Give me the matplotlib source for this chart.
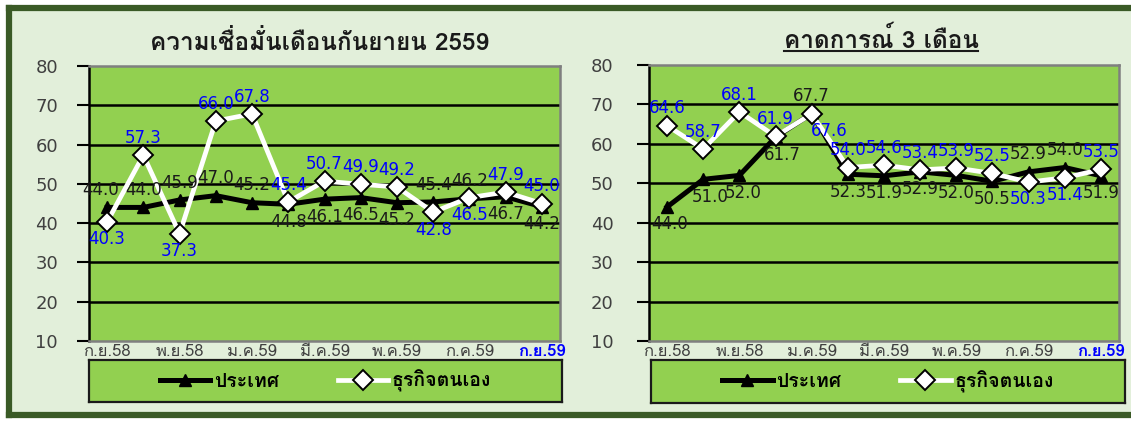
import matplotlib
matplotlib.use("Agg")
import matplotlib.pyplot as plt
from matplotlib import font_manager
from matplotlib.ft2font import FT2Font
from matplotlib.patches import Rectangle
from matplotlib.lines import Line2D

# pick an installed font that has Thai glyphs
thai_font = None
for f in font_manager.fontManager.ttflist:
    try:
        if 0x0E01 in FT2Font(f.fname).get_charmap():
            thai_font = f.name
            break
    except Exception:
        pass
FAMILY = [thai_font, 'DejaVu Sans'] if thai_font else ['DejaVu Sans']

months = ['ก.ย.58', 'ต.ค.58', 'พ.ย.58', 'ธ.ค.58', 'ม.ค.59', 'ก.พ.59', 'มี.ค.59',
          'เม.ย.59', 'พ.ค.59', 'มิ.ย.59', 'ก.ค.59', 'ส.ค.59', 'ก.ย.59']

# current month confidence
now_country = [44.0, 44.0, 45.9, 47.0, 45.2, 44.8, 46.1, 46.5, 45.2, 45.4, 46.2, 46.7, 44.2]
now_business = [40.3, 57.3, 37.3, 66.0, 67.8, 45.4, 50.7, 49.9, 49.2, 42.8, 46.5, 47.9, 45.0]
# 3-month outlook
fc_country = [44.0, 51.0, 52.0, 61.7, 67.7, 52.3, 51.9, 52.9, 52.0, 50.5, 52.9, 54.0, 51.9]
fc_business = [64.6, 58.7, 68.1, 61.9, 67.6, 54.0, 54.6, 53.4, 53.9, 52.5, 50.3, 51.4, 53.5]

titles = ['ความเชื่อมั่นเดือนกันยายน 2559', 'คาดการณ์ 3 เดือน']
legend_labels = ['ประเทศ', 'ธุรกิจตนเอง']

# label placement: a = above, b = below; dx = sideways nudge in points
now_country_pos = ['a', 'a', 'a', 'a', 'a', 'b', 'b', 'b', 'b', 'a', 'a', 'b', 'b']
now_country_dx = [-5, 0, 0, 0, 0, 0, 0, 0, 0, 0, 0, 0, 0]
now_business_pos = ['b', 'a', 'b', 'a', 'a', 'a', 'a', 'a', 'a', 'b', 'b', 'a', 'a']
now_business_dx = [0, 0, 0, 0, 0, 0, 0, 0, 0, 0, 0, 0, 0]
fc_country_pos = ['b', 'b', 'b', 'b', 'a', 'b', 'b', 'b', 'b', 'b', 'a', 'a', 'b']
fc_country_dx = [2, 5, 3, 5, 0, 0, 0, 0, 0, 0, 0, 0, 0]
fc_business_pos = ['a', 'a', 'a', 'a', 'b', 'a', 'a', 'a', 'a', 'a', 'b', 'b', 'a']
fc_business_dx = [0, 0, 0, 0, 13, 0, 0, 0, 0, 0, 0, 0, 0]

GREEN = '#92D050'
BG = '#E2EFDA'
DARK = '#3A5A26'
GREY_TXT = '#404040'

W, H = 1131, 422
fig = plt.figure(figsize=(W / 100, H / 100), dpi=100, facecolor='white')

# outer frame: light fill plus dark border on top, left and bottom only
fig.patches.append(Rectangle((8 / W, 7 / H), 1.0, (H - 15) / H, transform=fig.transFigure,
                             facecolor=BG, edgecolor='none', zorder=-10))
for xs, ys in [([8.5, W], [H - 7.5, H - 7.5]), ([8.5, 8.5], [7.5, H - 7.5]), ([8.5, W], [7.5, 7.5])]:
    fig.add_artist(Line2D([v / W for v in xs], [v / H for v in ys], transform=fig.transFigure,
                          color=DARK, lw=4.5, solid_capstyle='projecting', zorder=-9))


def px(x0, y0, x1, y1):
    return [x0 / W, (H - y1) / H, (x1 - x0) / W, (y1 - y0) / H]


def draw_panel(rect, leg_rect, country, business, cpos, cdx, bpos, bdx, title, ypad, title_xy):
    ax = fig.add_axes(px(*rect))
    ax.set_facecolor(GREEN)
    x = list(range(len(months)))
    ax.plot(x, country, color='black', lw=3.6, marker='^', ms=8.5, mfc='black', mec='black',
            zorder=3)
    ax.plot(x, business, color='white', lw=3.4, marker='D', ms=10, mfc='white', mec='black',
            mew=1.4, zorder=4)
    ax.set_xlim(-0.5, len(months) - 0.5)
    ax.set_ylim(10, 80)
    ax.set_yticks(range(10, 81, 10))
    for v in range(20, 80, 10):
        ax.axhline(v, color='black', lw=1.8, zorder=1)
    ax.tick_params(axis='y', direction='out', length=8.6, width=1.5, pad=ypad,
                   labelsize=13, labelcolor=GREY_TXT)
    ax.set_xticks(x[::2])
    ax.set_xticklabels(months[::2], family=FAMILY, fontsize=12, color=GREY_TXT)
    ax.tick_params(axis='x', length=0, pad=2)
    last = ax.get_xticklabels()[-1]
    last.set_color('#0000FF')
    last.set_fontweight('bold')
    ax.spines['left'].set_color('black')
    ax.spines['left'].set_linewidth(1.8)
    for s in ['top', 'right', 'bottom']:
        ax.spines[s].set_color('#7F7F7F')
        ax.spines[s].set_linewidth(1.8)

    for vals, pos, dxs, col in [(country, cpos, cdx, '#1A1A1A'), (business, bpos, bdx, '#0000FF')]:
        for xi, v, p, dx in zip(x, vals, pos, dxs):
            dy = 12.5 if p == 'a' else -12.5
            ax.annotate(f'{v:.1f}', (xi, v), xytext=(dx, dy), textcoords='offset points',
                        ha='center', va='center', fontsize=12, color=col, zorder=6)

    t = fig.text(title_xy[0] / W, 1 - title_xy[1] / H, title, family=FAMILY, fontsize=17.5,
                 fontweight='bold', ha='center', va='center', color='#1A1A1A')

    lax = fig.add_axes(px(*leg_rect))
    lax.set_facecolor(GREEN)
    lax.set_xticks([])
    lax.set_yticks([])
    for s in lax.spines.values():
        s.set_color('#1A1A1A')
        s.set_linewidth(1.6)
    h1 = Line2D([], [], color='black', lw=3.6, marker='^', ms=8.5, mfc='black', mec='black')
    h2 = Line2D([], [], color='white', lw=3.4, marker='D', ms=10, mfc='white', mec='black', mew=1.4)
    lax.legend([h1, h2], legend_labels, loc='center', ncol=2, frameon=False,
               handlelength=2.6, columnspacing=3.0, handletextpad=0.2,
               prop={'family': FAMILY, 'size': 14, 'weight': 'bold'})
    return t


t1 = draw_panel((89, 66, 560, 341), (89, 360, 562, 402), now_country, now_business,
                now_country_pos, now_country_dx, now_business_pos, now_business_dx,
                titles[0], 13.7, (320, 42))
t2 = draw_panel((649, 65, 1119, 341), (651, 360, 1125, 403), fc_country, fc_business,
                fc_country_pos, fc_country_dx, fc_business_pos, fc_business_dx,
                titles[1], 17, (881, 40))

# underline the outlook title
fig.canvas.draw()
bb = t2.get_window_extent(fig.canvas.get_renderer())
fig.add_artist(Line2D([bb.x0 / W, bb.x1 / W], [(bb.y0 + 2) / H] * 2, transform=fig.transFigure,
                      color='#1A1A1A', lw=1.5))

fig.savefig('out.png', dpi=100, facecolor=fig.get_facecolor())
